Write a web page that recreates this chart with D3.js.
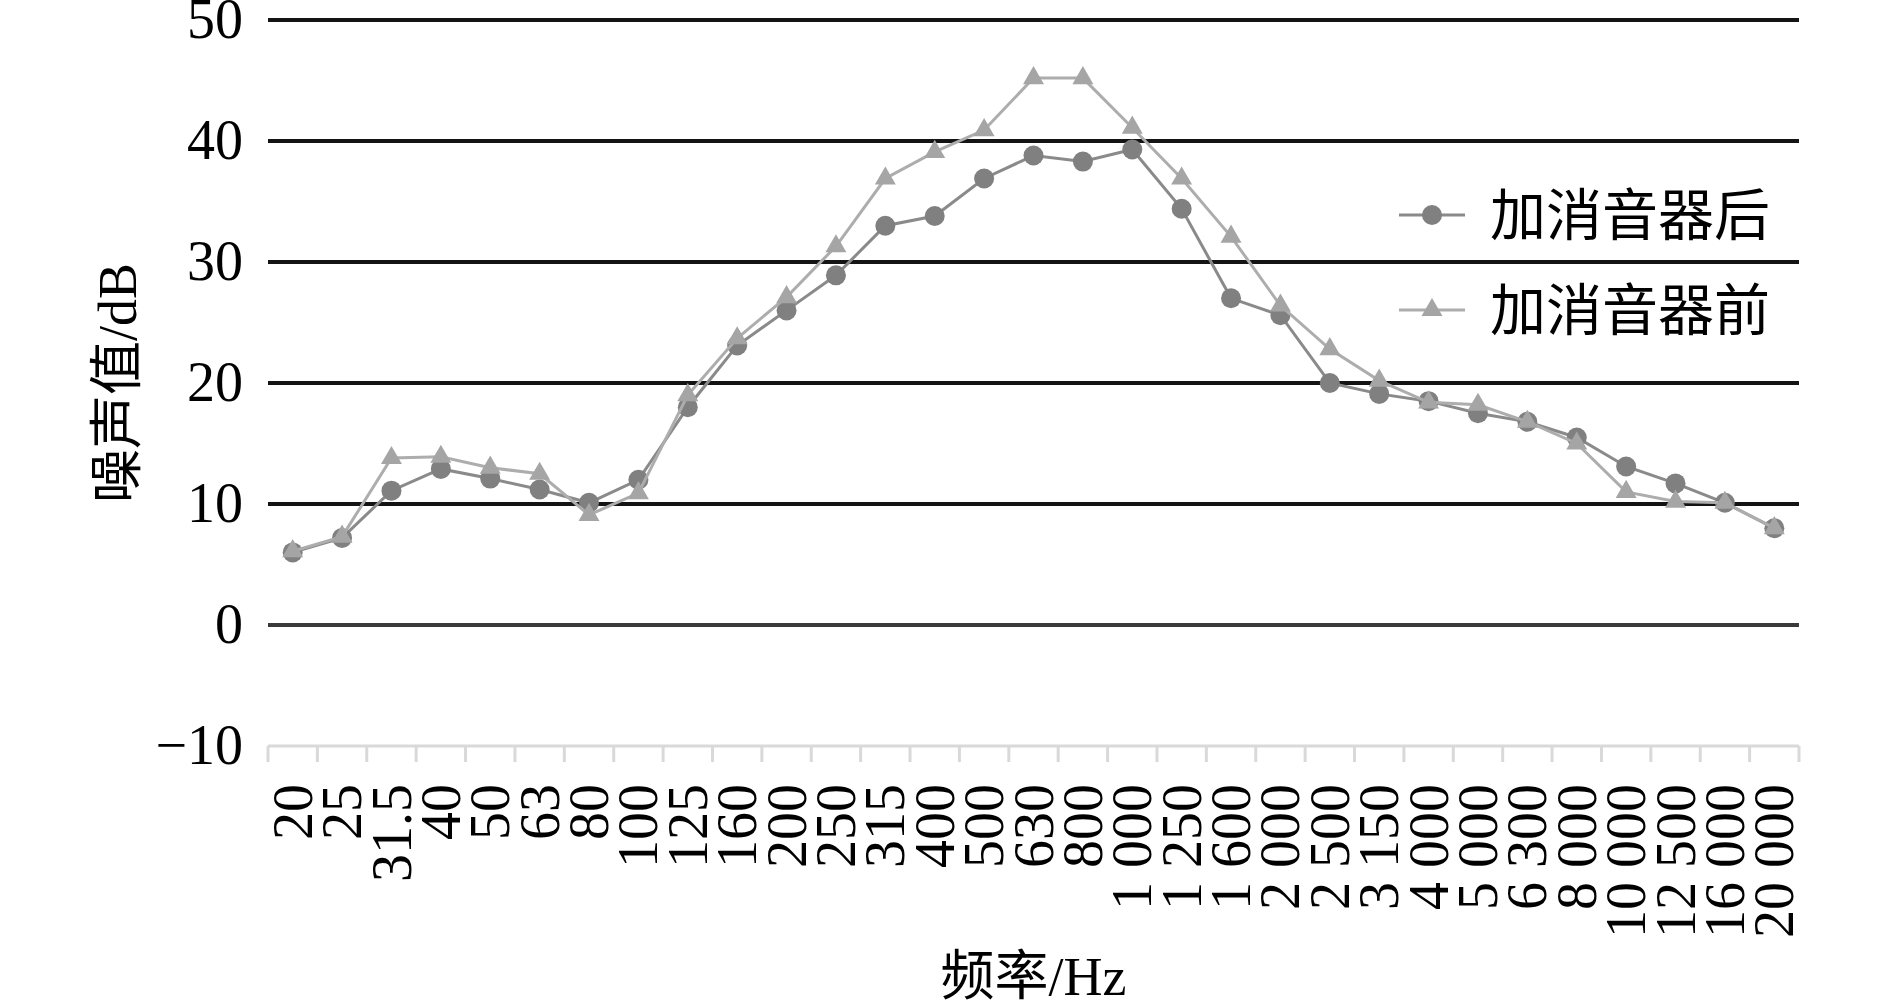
<!DOCTYPE html>
<html>
<head>
<meta charset="utf-8">
<script src="https://cdn.jsdelivr.net/npm/d3@7"></script>
<style>
  body { margin: 0; background: #fff; }
  text { font-family: "Liberation Serif", "Noto Sans CJK SC", serif; }
</style>
</head>
<body>
<script>
const width = 1890;
const height = 1006;
const margin = { left: 268, right: 91, top: 20, bottom: 260 };

const categories = ["20", "25", "31.5", "40", "50", "63", "80", "100", "125", "160",
  "200", "250", "315", "400", "500", "630", "800", "1 000", "1 250", "1 600",
  "2 000", "2 500", "3 150", "4 000", "5 000", "6 300", "8 000", "10 000",
  "12 500", "16 000", "20 000"];

// 加消音器后
const afterValues = [6.0, 7.2, 11.1, 12.9, 12.1, 11.2, 10.1, 12.0, 18.0, 23.1,
  26.0, 28.9, 33.0, 33.8, 36.9, 38.8, 38.3, 39.3, 34.4, 27.0,
  25.6, 20.0, 19.1, 18.5, 17.5, 16.8, 15.5, 13.1, 11.7, 10.1, 8.0];

// 加消音器前
const beforeValues = [6.1, 7.3, 13.8, 13.9, 13.0, 12.5, 9.1, 10.9, 19.0, 23.7,
  27.1, 31.3, 36.9, 39.1, 40.9, 45.2, 45.2, 41.1, 36.9, 32.1,
  26.4, 22.8, 20.2, 18.4, 18.2, 16.8, 15.0, 11.0, 10.2, 10.1, 8.0];

const yTicks = [-10, 0, 10, 20, 30, 40, 50];

const series = [
  { name: "加消音器后", values: afterValues, color: "#808080", line: "#8a8a8a", shape: "circle" },
  { name: "加消音器前", values: beforeValues, color: "#a5a5a5", line: "#adadad", shape: "triangle" }
];

const svg = d3.select("body")
  .append("svg")
  .attr("width", width)
  .attr("height", height);

const x = d3.scaleBand()
  .domain(categories)
  .range([margin.left, width - margin.right]);

const y = d3.scaleLinear()
  .domain([-10, 50])
  .range([height - margin.bottom, margin.top]);

// gridlines
svg.selectAll(".grid")
  .data(yTicks.filter(d => d > -10))
  .enter()
  .append("line")
  .attr("class", "grid")
  .attr("x1", margin.left)
  .attr("x2", width - margin.right)
  .attr("y1", d => y(d))
  .attr("y2", d => y(d))
  .attr("stroke", d => d === 0 ? "#3a3a3a" : "#141414")
  .attr("stroke-width", 4);

// bottom axis line + ticks at band edges
svg.append("line")
  .attr("x1", margin.left)
  .attr("x2", width - margin.right)
  .attr("y1", y(-10))
  .attr("y2", y(-10))
  .attr("stroke", "#d9d9d9")
  .attr("stroke-width", 3);

const edges = categories.map(c => x(c)).concat([width - margin.right]);
svg.selectAll(".xtick")
  .data(edges)
  .enter()
  .append("line")
  .attr("x1", d => d)
  .attr("x2", d => d)
  .attr("y1", y(-10))
  .attr("y2", y(-10) + 16)
  .attr("stroke", "#d9d9d9")
  .attr("stroke-width", 3);

// y tick labels
svg.selectAll(".ylabel")
  .data(yTicks)
  .enter()
  .append("text")
  .attr("x", 243)
  .attr("y", d => y(d))
  .attr("dy", "0.33em")
  .attr("text-anchor", "end")
  .attr("font-size", 56)
  .attr("fill", "#000")
  .text(d => d < 0 ? "\u2212" + Math.abs(d) : d);

// x tick labels, rotated
svg.selectAll(".xlabel")
  .data(categories)
  .enter()
  .append("text")
  .attr("transform", d => `translate(${x(d) + x.bandwidth() / 2},${y(-10) + 38}) rotate(-90)`)
  .attr("dy", "0.34em")
  .attr("text-anchor", "end")
  .attr("font-size", 56)
  .attr("fill", "#000")
  .text(d => d);

// axis titles
svg.append("text")
  .attr("x", (margin.left + width - margin.right) / 2)
  .attr("y", 995)
  .attr("text-anchor", "middle")
  .attr("font-size", 54)
  .text("频率/Hz");

svg.append("text")
  .attr("transform", `translate(136,${(y(50) + y(-10)) / 2}) rotate(-90)`)
  .attr("text-anchor", "middle")
  .attr("font-size", 54)
  .text("噪声值/dB");

const cx = d => x(d) + x.bandwidth() / 2;
const tri = d3.symbol().type(d3.symbolTriangle).size(190);

series.forEach(s => {
  const pts = categories.map((c, i) => [cx(c), y(s.values[i])]);
  svg.append("path")
    .datum(pts)
    .attr("fill", "none")
    .attr("stroke", s.line)
    .attr("stroke-width", 3)
    .attr("d", d3.line());

  if (s.shape === "circle") {
    svg.selectAll(null)
      .data(pts)
      .enter()
      .append("circle")
      .attr("cx", d => d[0])
      .attr("cy", d => d[1])
      .attr("r", 10)
      .attr("fill", s.color);
  } else {
    svg.selectAll(null)
      .data(pts)
      .enter()
      .append("path")
      .attr("transform", d => `translate(${d[0]},${d[1]})`)
      .attr("d", tri)
      .attr("fill", s.color);
  }
});

// legend
const legend = svg.append("g");
series.forEach((s, i) => {
  const ly = 215 + i * 95;
  legend.append("line")
    .attr("x1", 1399).attr("x2", 1465)
    .attr("y1", ly).attr("y2", ly)
    .attr("stroke", s.line)
    .attr("stroke-width", 3);
  if (s.shape === "circle") {
    legend.append("circle").attr("cx", 1432).attr("cy", ly).attr("r", 10).attr("fill", s.color);
  } else {
    legend.append("path").attr("transform", `translate(1432,${ly})`).attr("d", tri).attr("fill", s.color);
  }
  legend.append("text")
    .attr("x", 1490)
    .attr("y", ly)
    .attr("dy", "0.36em")
    .attr("font-size", 56)
    .text(s.name);
});
</script>
</body>
</html>
